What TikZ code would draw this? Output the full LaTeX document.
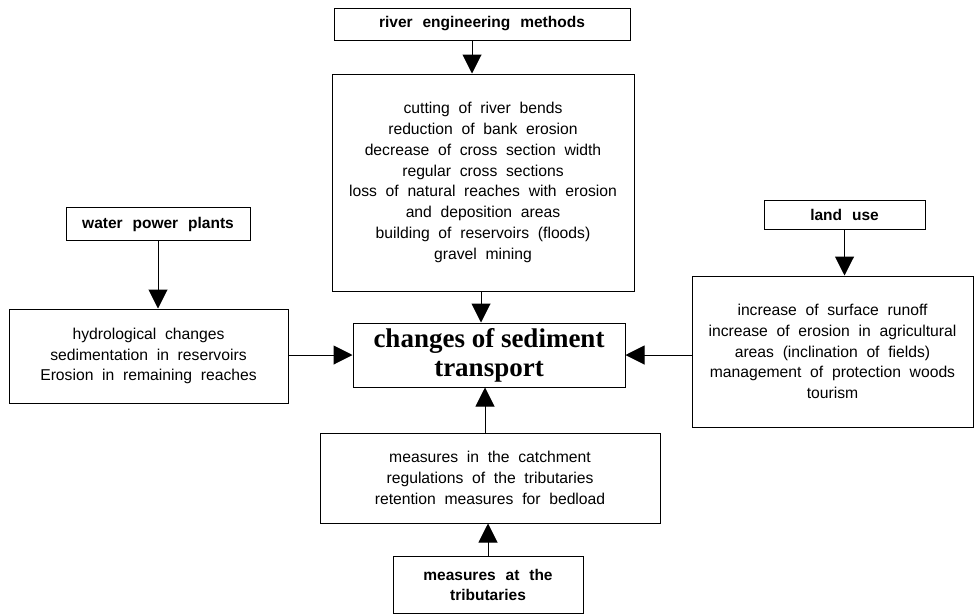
\documentclass[tikz,border=0pt]{standalone}
\usepackage{fontspec}
\setmainfont{Liberation Sans}[WordSpace=2]
\newfontfamily\hdrfont{Liberation Sans}[WordSpace=2.3]
\newfontfamily\mainserif{Liberation Serif}
\usetikzlibrary{arrows.meta}
\begin{document}
\begin{tikzpicture}[x=1pt,y=-1pt,
  box/.style={draw, line width=1pt, inner sep=0pt, align=center},
  body/.style={font=\fontsize{15.7}{20.8}\selectfont},
  hdr/.style={font=\hdrfont\bfseries\fontsize{15.5}{20}\selectfont},
  arr/.style={line width=1pt, -{Triangle[width=19pt,length=19pt]}}]
\useasboundingbox (0,0) rectangle (974,614);
% top header
\node[box,hdr,minimum width=296pt,minimum height=32pt] (A) at (482,24) {river engineering methods};
% big box
\node[box,body,minimum width=302pt,minimum height=217pt] (B) at (483,182.5) {cutting of river bends\\reduction of bank erosion\\decrease of cross section width\\regular cross sections\\loss of natural reaches with erosion\\and deposition areas\\building of reservoirs (floods)\\gravel mining};
% central
\node[box,minimum width=272pt,minimum height=64pt,font=\mainserif\bfseries\fontsize{27}{29}\selectfont] (C) at (489,355) {changes of sediment\\transport};
% water power plants
\node[box,hdr,minimum width=184pt,minimum height=33pt] (W) at (158,224) {water power plants};
% left box
\node[box,body,minimum width=279pt,minimum height=94pt] (L) at (148.5,356) {hydrological changes\\sedimentation in reservoirs\\Erosion in remaining reaches};
% land use
\node[box,hdr,minimum width=161pt,minimum height=29pt] (U) at (844.5,214.5) {land use};
% right box
\node[box,body,minimum width=281pt,minimum height=151pt] (R) at (832.5,351.5) {increase of surface runoff\\increase of erosion in agricultural\\areas (inclination of fields)\\management of protection woods\\tourism};
% bottom box
\node[box,body,minimum width=340pt,minimum height=90pt] (D) at (490,478) {measures in the catchment\\regulations of the tributaries\\retention measures for bedload};
% small bottom box
\node[box,hdr,minimum width=190pt,minimum height=57pt] (S) at (488,584.5) {measures at the\\tributaries};
% arrows
\draw[arr] ([xshift=-10pt]A.south) -- ([xshift=-10pt]A.south |- B.north);
\draw[arr] ([xshift=-2pt]B.south) -- ([xshift=-2pt]B.south |- C.north);
\draw[arr] (W.south) -- (W.south |- L.north);
\draw[arr] (U.south) -- (U.south |- R.north);
\draw[arr] (L.east |- C.west) -- (C.west);
\draw[arr] (R.west |- C.east) -- (C.east);
\draw[arr] ([xshift=-5pt]D.north) -- ([xshift=-5pt]D.north |- C.south);
\draw[arr] (S.north) -- (S.north |- D.south);
\end{tikzpicture}
\end{document}
